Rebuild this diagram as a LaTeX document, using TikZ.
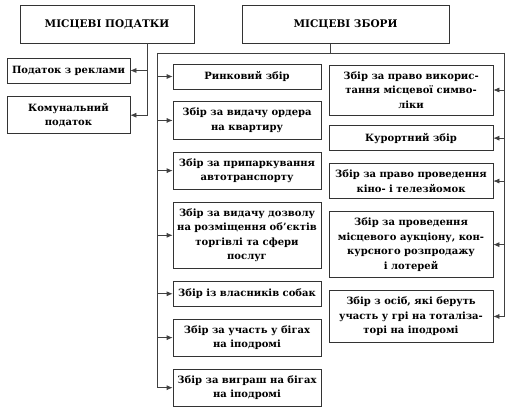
\documentclass[tikz,border=0pt]{standalone}
\usepackage{fontspec}
\setmainfont{DejaVu Serif}
\usetikzlibrary{arrows.meta,positioning}
\tikzset{
    %Define standard arrow tip
    >={Latex[length=6pt,width=5pt]},
    %Define style for the two headers
    headbox/.style={
           rectangle,
           draw=black!80, line width=0.8pt,
           minimum width=174pt,
           minimum height=38pt,
           font=\bfseries\fontsize{10.5}{13}\selectfont,
           text centered},
    %Define style for boxes
    feebox/.style={
           rectangle,
           draw=black!80, line width=0.7pt,
           inner xsep=2pt, inner ysep=6.5pt,
           minimum height=25pt,
           align=center,
           font=\bfseries\fontsize{10}{14.5}\selectfont},
    leftbox/.style={feebox, minimum width=148pt},
    rightbox/.style={feebox, minimum width=164pt},
    taxbox/.style={feebox, minimum width=123pt},
    % Define arrow style
    pil/.style={
           ->,
           draw=black!75,
           line width=0.7pt}
}
\begin{document}
\begin{tikzpicture}[x=1pt,y=-1pt,node distance=12pt]
\useasboundingbox (0,0) rectangle (513,411);
% headers
\node[headbox](podatky) at (107,24){МІСЦЕВІ ПОДАТКИ};
\node[headbox, minimum width=207pt](zbory) at (345.5,24.5){МІСЦЕВІ ЗБОРИ};
% local taxes
\node[taxbox](rekl) at (68.5,70.5){Податок з реклами};
\node[taxbox, below=13pt of rekl](komun){Комунальний\\податок};
% local fees, left column
\node[leftbox](rynok) at (247,76.5){Ринковий збір};
\node[leftbox, below=of rynok](order){Збір за видачу ордера\\на квартиру};
\node[leftbox, below=of order](park){Збір за припаркування\\автотранспорту};
\node[leftbox, below=of park](dozvil){Збір за видачу дозволу\\на розміщення об’єктів\\торгівлі та сфери\\послуг};
\node[leftbox, below=of dozvil](sobaky){Збір із власників собак};
\node[leftbox, below=of sobaky](bihy){Збір за участь у бігах\\на іподромі};
\node[leftbox, below=of bihy](vyhrash){Збір за виграш на бігах\\на іподромі};
% local fees, right column
\node[rightbox](symv) at (411,90){Збір за право викорис-\\тання місцевої симво-\\ліки};
\node[rightbox, below=10pt of symv](kurort){Курортний збір};
\node[rightbox, below=of kurort](kino){Збір за право проведення\\кіно- і телезйомок};
\node[rightbox, below=of kino](aukc){Збір за проведення\\місцевого аукціону, кон-\\курсного розпродажу\\і лотерей};
\node[rightbox, below=of aukc](osib){Збір з осіб, які беруть\\участь у грі на тоталіза-\\торі на іподромі};
% rails of the frame
\coordinate (lrail) at (157,53);
\coordinate (rrail) at (504,53);
\draw[pil] ([xshift=40pt]podatky.south) |- (rekl.east);
\draw[pil] ([xshift=40pt]podatky.south) |- (komun.east);
\draw[draw=black!75, line width=0.7pt]
	([xshift=-15.5pt]zbory.south) -- ([xshift=-15.5pt]zbory.south |- lrail)
	(lrail) -- (rrail);
\draw[pil] (lrail) |- (vyhrash.west);
\draw[pil] (rrail) |- (osib.east);
\foreach \n in {rynok,order,park,dozvil,sobaky,bihy}
	\draw[pil] (lrail |- \n.west) -- (\n.west);
\foreach \n in {symv,kurort,kino,aukc}
	\draw[pil] (rrail |- \n.east) -- (\n.east);
\end{tikzpicture}
\end{document}
